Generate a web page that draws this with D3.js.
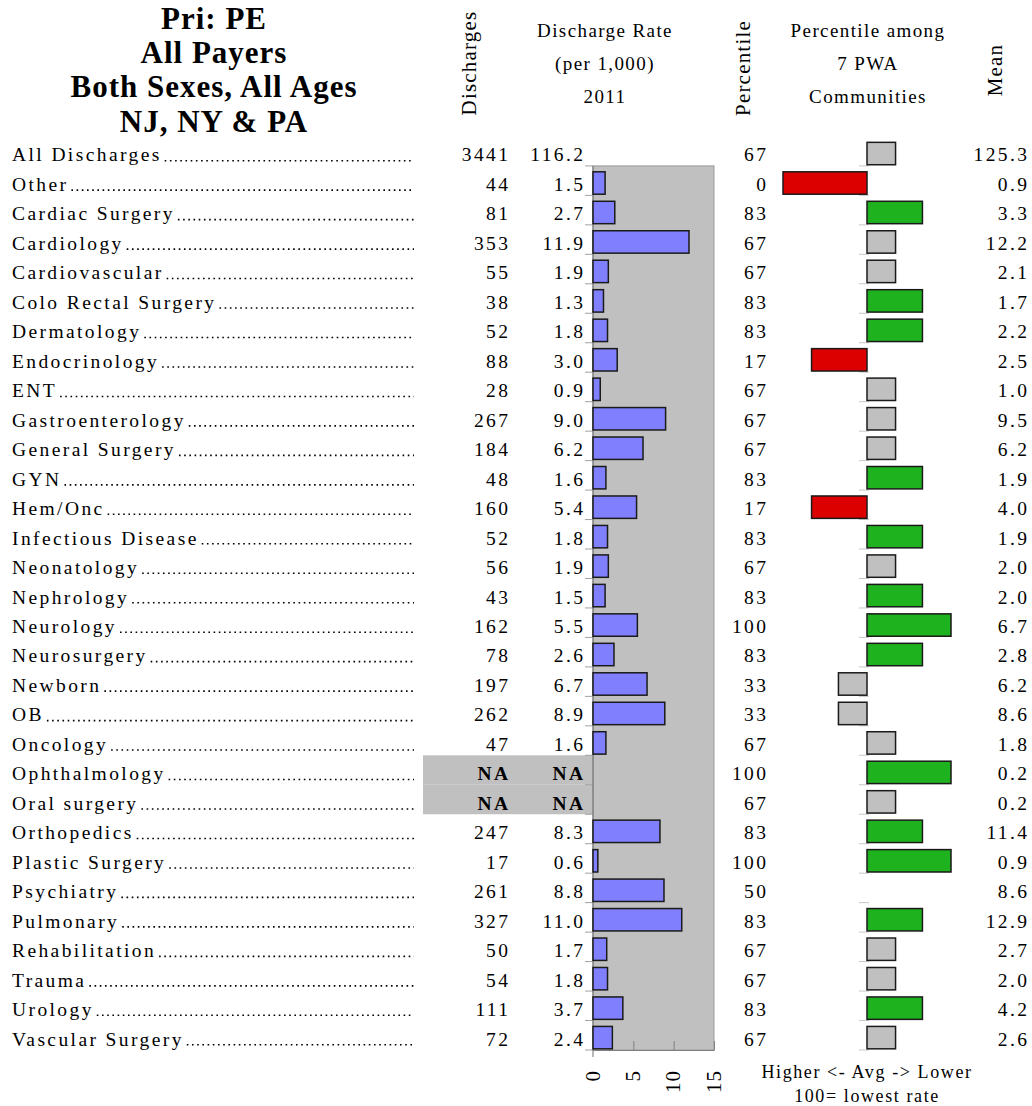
<!DOCTYPE html>
<html>
<head>
<meta charset="utf-8">
<script src="https://cdn.jsdelivr.net/npm/d3@7"></script>
<style>
  body { margin: 0; background: #fff; }
  text { font-family: "Liberation Serif", "Times New Roman", serif; fill: #000; }
</style>
</head>
<body>
<svg id="chart" width="1032" height="1106"></svg>
<script>
// ---- data ----
const titleLines = ["Pri: PE", "All Payers", "Both Sexes, All Ages", "NJ, NY & PA"];

const specialties = [
  "All Discharges", "Other", "Cardiac Surgery", "Cardiology", "Cardiovascular",
  "Colo Rectal Surgery", "Dermatology", "Endocrinology", "ENT", "Gastroenterology",
  "General Surgery", "GYN", "Hem/Onc", "Infectious Disease", "Neonatology",
  "Nephrology", "Neurology", "Neurosurgery", "Newborn", "OB", "Oncology",
  "Ophthalmology", "Oral surgery", "Orthopedics", "Plastic Surgery", "Psychiatry",
  "Pulmonary", "Rehabilitation", "Trauma", "Urology", "Vascular Surgery"
];

// null = not available
const discharges = [3441, 44, 81, 353, 55, 38, 52, 88, 28, 267, 184, 48, 160, 52, 56,
  43, 162, 78, 197, 262, 47, null, null, 247, 17, 261, 327, 50, 54, 111, 72];

const rates = [116.2, 1.5, 2.7, 11.9, 1.9, 1.3, 1.8, 3.0, 0.9, 9.0, 6.2, 1.6, 5.4, 1.8, 1.9,
  1.5, 5.5, 2.6, 6.7, 8.9, 1.6, null, null, 8.3, 0.6, 8.8, 11.0, 1.7, 1.8, 3.7, 2.4];

const percentiles = [67, 0, 83, 67, 67, 83, 83, 17, 67, 67, 67, 83, 17, 83, 67,
  83, 100, 83, 33, 33, 67, 100, 67, 83, 100, 50, 83, 67, 67, 83, 67];

const means = [125.3, 0.9, 3.3, 12.2, 2.1, 1.7, 2.2, 2.5, 1.0, 9.5, 6.2, 1.9, 4.0, 1.9, 2.0,
  2.0, 6.7, 2.8, 6.2, 8.6, 1.8, 0.2, 0.2, 11.4, 0.9, 8.6, 12.9, 2.7, 2.0, 4.2, 2.6];

const rateTicks = [0, 5, 10, 15];

// ---- layout ----
const svg = d3.select("#chart");
const rows = specialties.map((name, i) => ({
  name, n: discharges[i], rate: rates[i], pct: percentiles[i], mean: means[i]
}));

const y = d3.scaleBand().domain(specialties).range([136.45, 1050]);
const step = y.step();
const xRate = d3.scaleLinear().domain([0, 15]).range([593, 714]);
const xPct = d3.scaleLinear().domain([-50, 50]).range([783, 951]);
const fmt1 = d3.format(".1f");

const LS = 2.4;          // letter spacing of the row text
const rowFont = "19.5px";
const baseline = d => y(d) + step / 2 + 10.3;
const barY = d => y(d) + step * 0.2;
const barH = step * 0.76;

const pctColor = p => p > 67 ? "#1FB21F" : (p < 33 ? "#DD0000" : "#C0C0C0");

// ---- title ----
svg.append("g").selectAll("text").data(titleLines).join("text")
  .attr("x", 214).attr("y", (d, i) => 28.5 + i * 34.4)
  .attr("text-anchor", "middle")
  .style("font-size", "31px").style("font-weight", "bold").style("letter-spacing", "1px")
  .text(d => d);

// ---- column headers ----
const hdr = svg.append("g").style("font-size", "19px").style("letter-spacing", "1.4px");
[["Discharge Rate", 37], ["(per 1,000)", 70], ["2011", 103]].forEach(([t, yy]) =>
  hdr.append("text").attr("x", 605).attr("y", yy).attr("text-anchor", "middle").text(t));
[["Percentile among", 37], ["7 PWA", 70], ["Communities", 103]].forEach(([t, yy]) =>
  hdr.append("text").attr("x", 868).attr("y", yy).attr("text-anchor", "middle").text(t));

const vhdr = svg.append("g").style("font-size", "21px").style("letter-spacing", "1.2px");
[["Discharges", 476, 63], ["Percentile", 750, 68], ["Mean", 1002, 70]].forEach(([t, xx, yy]) =>
  vhdr.append("text")
    .attr("transform", `translate(${xx},${yy}) rotate(-90)`)
    .attr("text-anchor", "middle").text(t));

// ---- NA background ----
const naRows = rows.filter(r => r.rate === null);
svg.append("g").selectAll("rect").data(naRows).join("rect")
  .attr("x", 423).attr("width", xRate(0) - 423)
  .attr("y", d => y(d.name)).attr("height", step)
  .attr("fill", "#C0C0C0");

// ---- rate plot area ----
const plotRows = rows.slice(1);
const plotTop = y(plotRows[0].name);
const plotBottom = y(plotRows[plotRows.length - 1].name) + step;

svg.append("rect")
  .attr("x", xRate(0)).attr("y", plotTop)
  .attr("width", xRate(15) - xRate(0)).attr("height", plotBottom - plotTop)
  .attr("fill", "#C0C0C0").attr("stroke", "#9a9a9a").attr("stroke-width", 1);

// row boundary ticks on the rate axis
svg.append("g").selectAll("line").data(plotRows.map(r => y(r.name)).concat([plotBottom])).join("line")
  .attr("x1", xRate(0) - 8).attr("x2", xRate(0))
  .attr("y1", d => d).attr("y2", d => d)
  .attr("stroke", "#a0a0a0").attr("stroke-width", 1);

// bottom axis
const axisG = svg.append("g")
  .attr("transform", `translate(0,${plotBottom})`)
  .call(d3.axisBottom(xRate).tickValues(rateTicks).tickSizeInner(-9).tickSizeOuter(0).tickPadding(0));
axisG.select(".domain").attr("stroke", "#808080");
axisG.selectAll(".tick line").attr("stroke", "#808080");
axisG.selectAll(".tick text")
  .attr("transform", "rotate(-90)")
  .attr("x", -20).attr("y", 0).attr("dy", "0.3em")
  .attr("text-anchor", "end")
  .style("font-family", "'Liberation Serif', serif")
  .style("font-size", "21px").style("letter-spacing", "1px")
  .attr("fill", "#000");

// left axis line of the rate plot
svg.append("line")
  .attr("x1", xRate(0)).attr("x2", xRate(0))
  .attr("y1", plotTop).attr("y2", plotBottom + 7)
  .attr("stroke", "#707070").attr("stroke-width", 1);

// rate bars
svg.append("g").selectAll("rect").data(plotRows.filter(r => r.rate !== null)).join("rect")
  .attr("x", xRate(0)).attr("y", d => barY(d.name))
  .attr("width", d => xRate(d.rate) - xRate(0)).attr("height", barH)
  .attr("fill", "#8080FF").attr("stroke", "#1a1a1a").attr("stroke-width", 1.5);

// ---- percentile bars ----
svg.append("g").selectAll("line").data(rows.map(r => y(r.name) + step)).join("line")
  .attr("x1", xPct(0) - 8).attr("x2", xPct(0) + 2)
  .attr("y1", d => d).attr("y2", d => d)
  .attr("stroke", "#c8c8c8").attr("stroke-width", 1);

svg.append("g").selectAll("rect").data(rows.filter(r => r.pct !== 50)).join("rect")
  .attr("x", d => Math.min(xPct(d.pct - 50), xPct(0)))
  .attr("y", d => barY(d.name))
  .attr("width", d => Math.abs(xPct(d.pct - 50) - xPct(0)))
  .attr("height", barH)
  .attr("fill", d => pctColor(d.pct))
  .attr("stroke", "#1a1a1a").attr("stroke-width", 1.5);

// ---- row text ----
const rowG = svg.append("g").style("font-size", rowFont).style("letter-spacing", LS + "px");

const labels = rowG.selectAll("text.label").data(rows).join("text")
  .attr("class", "label")
  .attr("x", 12).attr("y", d => baseline(d.name))
  .text(d => d.name);

// dot leaders from each label to the discharges column
const leaders = svg.append("g");
labels.each(function (d) {
  const end = 12 + this.getComputedTextLength();
  leaders.append("line")
    .attr("x1", end + 3).attr("x2", 414)
    .attr("y1", baseline(d.name) - 0.8).attr("y2", baseline(d.name) - 0.8)
    .attr("stroke", "#000").attr("stroke-width", 1.6)
    .attr("stroke-dasharray", "1.6 3.6");
});

rowG.selectAll("text.n").data(rows).join("text")
  .attr("class", "n")
  .attr("x", 508 + LS).attr("y", d => baseline(d.name))
  .attr("text-anchor", "end")
  .style("font-weight", d => d.n === null ? "bold" : null)
  .text(d => d.n === null ? "NA" : d.n);

rowG.selectAll("text.rate").data(rows).join("text")
  .attr("class", "rate")
  .attr("x", 583 + LS).attr("y", d => baseline(d.name))
  .attr("text-anchor", "end")
  .style("font-weight", d => d.rate === null ? "bold" : null)
  .text(d => d.rate === null ? "NA" : fmt1(d.rate));

rowG.selectAll("text.pct").data(rows).join("text")
  .attr("class", "pct")
  .attr("x", 766 + LS).attr("y", d => baseline(d.name))
  .attr("text-anchor", "end")
  .text(d => d.pct);

rowG.selectAll("text.mean").data(rows).join("text")
  .attr("class", "mean")
  .attr("x", 1027 + LS).attr("y", d => baseline(d.name))
  .attr("text-anchor", "end")
  .text(d => fmt1(d.mean));

// ---- footnote under the percentile bars ----
const foot = svg.append("g").style("font-size", "18px").style("letter-spacing", "1.6px");
foot.append("text").attr("x", 867).attr("y", 1078).attr("text-anchor", "middle").text("Higher <- Avg -> Lower");
foot.append("text").attr("x", 867).attr("y", 1102).attr("text-anchor", "middle").text("100= lowest rate");
</script>
</body>
</html>
